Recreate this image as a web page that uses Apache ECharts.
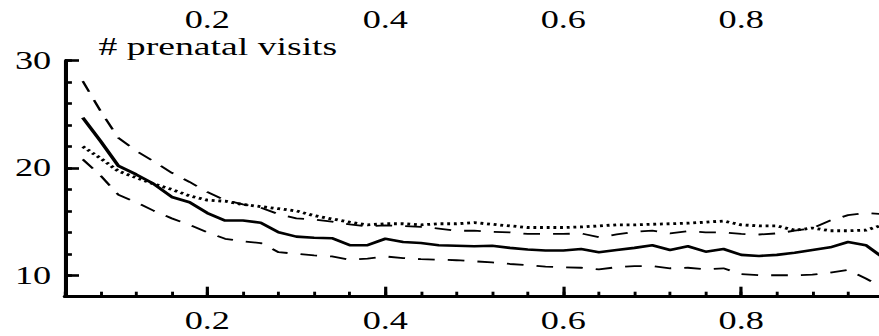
<!DOCTYPE html>
<html>
<head>
<meta charset="utf-8">
<script src="https://cdn.jsdelivr.net/npm/echarts@6/dist/echarts.min.js"></script>
<style>
html,body{margin:0;padding:0;background:#fff;overflow:hidden;width:879px;height:336px;}
#c{width:620px;height:336px;transform:scaleX(1.45);transform-origin:0 0;}
</style>
</head>
<body>
<div id="c"></div>
<script>
// ---- data ----
var xValues = [0.06,0.08,0.10,0.12,0.14,0.16,0.18,0.20,0.22,0.24,0.26,0.28,0.30,0.32,0.34,0.36,0.38,0.40,0.42,0.44,0.46,0.48,0.50,0.52,0.54,0.56,0.58,0.60,0.62,0.64,0.66,0.68,0.70,0.72,0.74,0.76,0.78,0.80,0.82,0.84,0.86,0.88,0.90,0.92,0.94,0.96];
var meanVisits = [24.7,22.5,20.2,19.4,18.5,17.3,16.8,15.8,15.1,15.1,14.9,14.0,13.6,13.5,13.45,12.8,12.8,13.4,13.1,13.0,12.8,12.75,12.7,12.75,12.55,12.4,12.3,12.3,12.45,12.15,12.35,12.55,12.8,12.35,12.7,12.2,12.45,11.9,11.8,11.9,12.1,12.35,12.6,13.1,12.8,11.6];
var upperBand = [28.1,25.3,22.8,21.6,20.6,19.55,18.7,17.75,17.0,16.6,16.3,15.7,15.3,15.2,15.0,14.75,14.55,14.65,14.6,14.5,14.35,14.15,14.15,14.05,14.0,13.85,13.85,13.85,13.9,13.55,13.8,14.05,14.15,13.9,14.1,14.0,14.0,13.85,13.8,13.9,14.15,14.4,15.1,15.6,15.8,15.7];
var lowerBand = [20.8,19.3,17.5,16.8,16.0,15.3,14.7,14.0,13.4,13.15,13.0,12.15,12.0,11.85,11.75,11.45,11.55,11.75,11.6,11.5,11.45,11.4,11.3,11.2,11.05,10.95,10.8,10.75,10.7,10.55,10.75,10.85,10.85,10.65,10.7,10.55,10.65,10.1,10.0,10.0,10.0,10.05,10.25,10.5,9.7,8.8];
var dottedCurve = [22.0,20.9,19.7,19.1,18.5,18.0,17.4,17.0,16.9,16.6,16.4,16.2,16.0,15.55,15.25,14.95,14.7,14.8,14.8,14.7,14.8,14.8,14.9,14.75,14.6,14.45,14.45,14.45,14.5,14.6,14.7,14.7,14.75,14.8,14.85,14.95,15.05,14.7,14.6,14.6,14.2,14.4,14.15,14.15,14.2,14.7];
var xTickLabels = [0.2,0.4,0.6,0.8];
var yTickLabels = [10,20,30];
var titleText = '# prenatal visits';

function pairs(ys){ return xValues.map(function(x,i){ return [x, ys[i]]; }); }

var FONT = 'Liberation Serif';
var chart = echarts.init(document.getElementById('c'), null, {renderer:'svg'});
var labelStyle = {fontFamily:FONT, fontSize:25, color:'#000'};

chart.setOption({
  animation:false,
  backgroundColor:'#fff',
  title:{text:titleText, left:68, top:35.5, padding:0, textStyle:{fontFamily:FONT, fontSize:26, lineHeight:21, fontWeight:'normal', color:'#000'}},
  grid:{left:44.8, right:10.6, top:60.7, bottom:39.3, containLabel:false},
  xAxis:[
    {type:'value', position:'bottom', min:0.04, max:0.96, interval:0.04,
     axisLine:{onZero:false, lineStyle:{color:'#000', width:3.2}},
     axisTick:{inside:true, length:5, lineStyle:{color:'#000', width:2}},
     axisLabel:Object.assign({customValues:xTickLabels, margin:11, formatter:function(v){return v.toFixed(1);}}, labelStyle),
     splitLine:{show:false}},
    {type:'value', position:'bottom', offset:0, min:0.04, max:0.96,
     axisLine:{show:false, onZero:false},
     axisTick:{inside:true, length:10, customValues:xTickLabels, lineStyle:{color:'#000', width:2.2}},
     axisLabel:{show:false}, splitLine:{show:false}},
    {type:'value', position:'top', min:0.04, max:0.96,
     axisLine:{show:false, onZero:false}, axisTick:{show:false},
     axisLabel:Object.assign({customValues:xTickLabels, margin:32.5, lineHeight:18, formatter:function(v){return v.toFixed(1);}}, labelStyle),
     splitLine:{show:false}}
  ],
  yAxis:[
    {type:'value', position:'left', min:8, max:30, interval:2,
     axisLine:{onZero:false, lineStyle:{color:'#000', width:2.8}},
     axisTick:{inside:true, length:4.8, lineStyle:{color:'#000', width:2.6}},
     axisLabel:Object.assign({customValues:yTickLabels, margin:9.5}, labelStyle),
     splitLine:{show:false}},
    {type:'value', position:'left', offset:0, min:8, max:30,
     axisLine:{show:false, onZero:false},
     axisTick:{inside:true, length:9.7, customValues:yTickLabels, lineStyle:{color:'#000', width:2.6}},
     axisLabel:{show:false}, splitLine:{show:false}}
  ],
  series:[
    {type:'line', data:pairs(upperBand), showSymbol:false, symbol:'none', lineStyle:{color:'#000', width:1.8, type:[11.5,9]}},
    {type:'line', data:pairs(lowerBand), showSymbol:false, symbol:'none', lineStyle:{color:'#000', width:1.8, type:[11.5,9]}},
    {type:'line', data:pairs(dottedCurve), showSymbol:false, symbol:'none', lineStyle:{color:'#000', width:2.8, type:[2,2.6]}},
    {type:'line', data:pairs(meanVisits), showSymbol:false, symbol:'none', lineStyle:{color:'#000', width:2.6}}
  ]
});
</script>
</body>
</html>
